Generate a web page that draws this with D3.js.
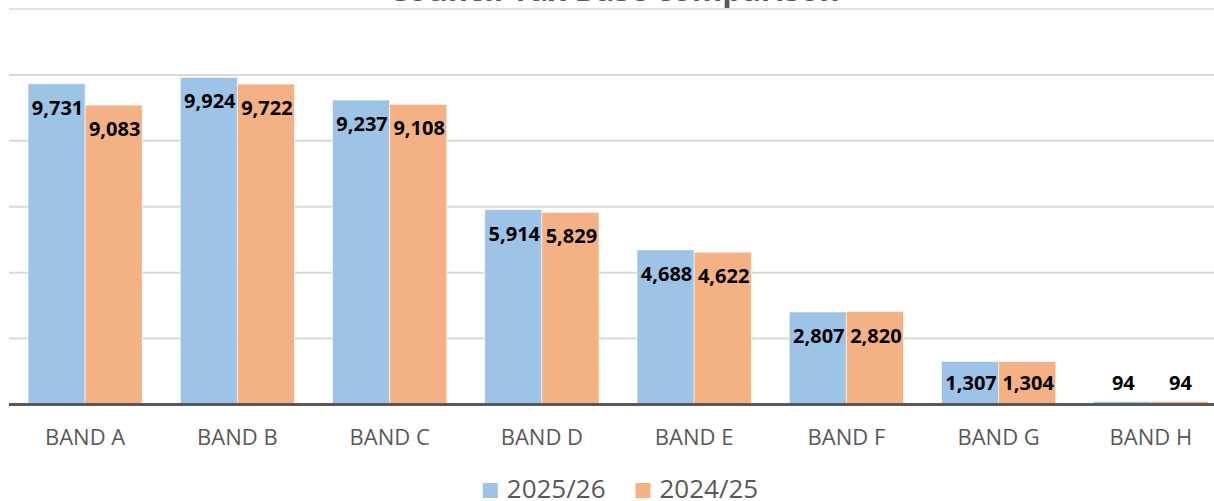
<!DOCTYPE html>
<html><head><meta charset="utf-8">
<script src="https://cdn.jsdelivr.net/npm/d3@7"></script>
<style>html,body{margin:0;padding:0;background:#fff;overflow:hidden}</style>
</head><body>
<svg id="c" width="1214" height="501"></svg>
<script>
const title = "Council Tax Base comparison";
const categories = ["BAND A","BAND B","BAND C","BAND D","BAND E","BAND F","BAND G","BAND H"];
const seriesNames = ["2025/26","2024/25"];
const values2025 = [9731,9924,9237,5914,4688,2807,1307,94];
const values2024 = [9083,9722,9108,5829,4622,2820,1304,94];
const yTicks = [0,2000,4000,6000,8000,10000,12000];
const colors = ["#9DC3E6","#F4B183"];

const svg = d3.select("#c");
const x0 = d3.scaleBand().domain(categories).range([9,1227]).paddingInner(0.25).paddingOuter(0.125);
const x1 = d3.scaleBand().domain(seriesNames).range([0,x0.bandwidth()]);
const y = d3.scaleLinear().domain([0,12000]).range([404.5,9]);

// gridlines
svg.append("g").selectAll("line").data(yTicks.filter(d=>d>0)).join("line")
  .attr("x1",9).attr("x2",1214)
  .attr("y1",d=>y(d)).attr("y2",d=>y(d))
  .attr("stroke",d=>d===12000?"#e3e3e3":"#d9d9d9").attr("stroke-width",2);

// title (cut off at top)
const t = svg.append("text").text(title)
  .attr("x",614).attr("y",0.8).attr("text-anchor","middle")
  .attr("font-family","Open Sans").attr("font-weight",700).attr("font-size",30)
  .attr("fill","#595959");
const tw = t.node().getComputedTextLength();
t.attr("font-size",30*452/tw);

const data = categories.map((c,i)=>({cat:c, vals:[values2025[i],values2024[i]]}));
const g = svg.append("g").selectAll("g").data(data).join("g")
  .attr("transform",d=>`translate(${x0(d.cat)},0)`);
g.selectAll("rect").data(d=>d.vals.map((v,j)=>({v,s:seriesNames[j],j}))).join("rect")
  .attr("x",d=>x1(d.s)).attr("width",x1.bandwidth())
  .attr("y",d=>y(d.v)).attr("height",d=>y(0)-y(d.v))
  .attr("fill",d=>colors[d.j])
  .attr("stroke","rgba(255,255,255,0.55)").attr("stroke-width",1);
g.selectAll("text").data(d=>d.vals.map((v,j)=>({v,s:seriesNames[j],j}))).join("text")
  .attr("x",d=>x1(d.s)+x1.bandwidth()/2+1)
  .attr("y",d=>Math.min(y(d.v)+24,383))
  .attr("dy","0.35em").attr("text-anchor","middle")
  .attr("font-family","Open Sans").attr("font-weight",700).attr("font-size",20)
  .attr("fill","#000").text(d=>d3.format(",")(d.v));

// x axis
const xa = svg.append("g").attr("transform",`translate(0,${y(0)})`).call(d3.axisBottom(x0).tickSize(0).tickPadding(25));
xa.select(".domain").remove();
xa.selectAll("text").attr("font-family","Open Sans").attr("font-size",22).attr("fill","#595959");
svg.append("line").attr("x1",9).attr("x2",1214).attr("y1",y(0)).attr("y2",y(0))
  .attr("stroke","#595959").attr("stroke-width",3);

// legend
const lg = svg.append("g");
let lx = 0;
seriesNames.forEach((s,i)=>{
  const it = lg.append("g").attr("transform",`translate(${lx},0)`);
  it.append("rect").attr("x",0).attr("y",483).attr("width",15).attr("height",15).attr("fill",colors[i]);
  const tx = it.append("text").attr("x",24).attr("y",498).text(s)
    .attr("font-family","Open Sans").attr("font-size",26).attr("fill","#595959");
  lx += 24 + tx.node().getComputedTextLength() + 30;
});
const lw = lx - 30;
lg.attr("transform",`translate(${620.5-lw/2},0)`);
</script>
</body></html>
